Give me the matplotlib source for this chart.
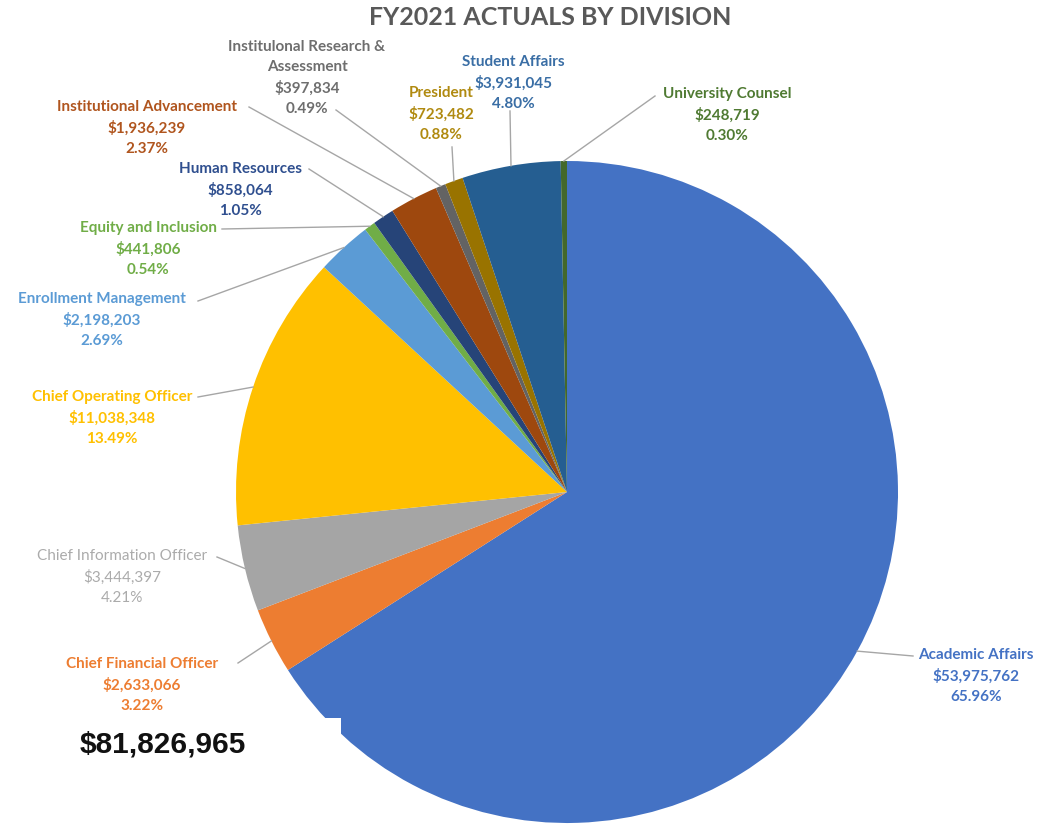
import matplotlib
matplotlib.use('Agg')
from matplotlib import pyplot as plt
import numpy as np

# data, clockwise from 12 o'clock
divisions = ['Academic Affairs', 'Chief Financial Officer', 'Chief Information Officer',
             'Chief Operating Officer', 'Enrollment Management', 'Equity and Inclusion',
             'Human Resources', 'Institutional Advancement',
             'Institulonal Research &\nAssessment', 'President', 'Student Affairs',
             'University Counsel']
amounts = [53975762, 2633066, 3444397, 11038348, 2198203, 441806,
           858064, 1936239, 397834, 723482, 3931045, 248719]
percents = ['65.96%', '3.22%', '4.21%', '13.49%', '2.69%', '0.54%',
            '1.05%', '2.37%', '0.49%', '0.88%', '4.80%', '0.30%']
total_label = '$81,826,965'
title = 'FY2021 ACTUALS BY DIVISION'

colors = ['#4472C4', '#ED7D31', '#A5A5A5', '#FFC000', '#5B9BD5', '#70AD47',
          '#264478', '#9E480E', '#636363', '#997300', '#255E91', '#43682B']
text_colors = ['#4472C4', '#ED7D31', '#ABABAB', '#FFC000', '#5B9BD5', '#70AD47',
               '#2F4F8F', '#B0551E', '#6E6E6E', '#B08A10', '#3A6EA5', '#4F7A32']
bold = [True, True, False, True, True, True, True, True, True, True, True, True]

W, H = 1043, 828
fig = plt.figure(figsize=(W / 100, H / 100), dpi=100)
ax = fig.add_axes([0, 0, 1, 1])

def P(x, y):
    # pixel (y down) -> data
    return x, H - y

cx, cy = P(567, 493)
R = 331

wedges, _ = ax.pie(amounts, colors=colors, startangle=90, counterclock=False,
                   center=(cx, cy), radius=R, frame=True,
                   wedgeprops=dict(linewidth=0))
ax.set_xlim(0, W)
ax.set_ylim(0, H)
ax.set_aspect('equal')
ax.axis('off')

fam = ['Lato', 'DejaVu Sans']

# label layout: text centre x, middle line y, leader start (pixels)
layout = [
    (976, 676, 913, 657),
    (142, 685, 238, 664),
    (122, 577, 217, 558),
    (112, 418, 198, 398),
    (102, 320, 198, 302),
    (148, 249, 222, 230),
    (240, 190, 309, 170),
    (147, 128, 249, 108),
    (307, 78, 336, 111),
    (441, 114, 452, 148),
    (513, 83, 510, 112),
    (727, 115, 655, 97),
]

for i, w in enumerate(wedges):
    tx, ty, lx, ly = layout[i]
    txt = f'{divisions[i]}\n${amounts[i]:,}\n{percents[i]}'
    ax.text(*P(tx, ty), txt, ha='center', va='center', multialignment='center',
            fontsize=11, fontweight='bold' if bold[i] else 'normal',
            color=text_colors[i], family=fam, linespacing=1.55)
    mid = np.deg2rad((w.theta1 + w.theta2) / 2)
    ex, ey = cx + R * np.cos(mid), cy + R * np.sin(mid)
    sx, sy = P(lx, ly)
    ax.plot([sx, ex], [sy, ey], color='#A6A6A6', lw=1, zorder=3)

ax.text(*P(550, 17), title, ha='center', va='center', fontsize=18,
        fontweight='bold', color='#595959', family=fam)

# white box with the total over the pie
ax.add_patch(plt.Rectangle(P(0, 828), 341, 828 - 719, facecolor='white',
                           edgecolor='none', zorder=4))
ax.text(*P(80, 745), total_label, ha='left', va='center', fontsize=21.5,
        fontweight='bold', color='#111111', family=['Liberation Sans', 'DejaVu Sans'],
        zorder=5)

plt.savefig('out.png', dpi=100)
